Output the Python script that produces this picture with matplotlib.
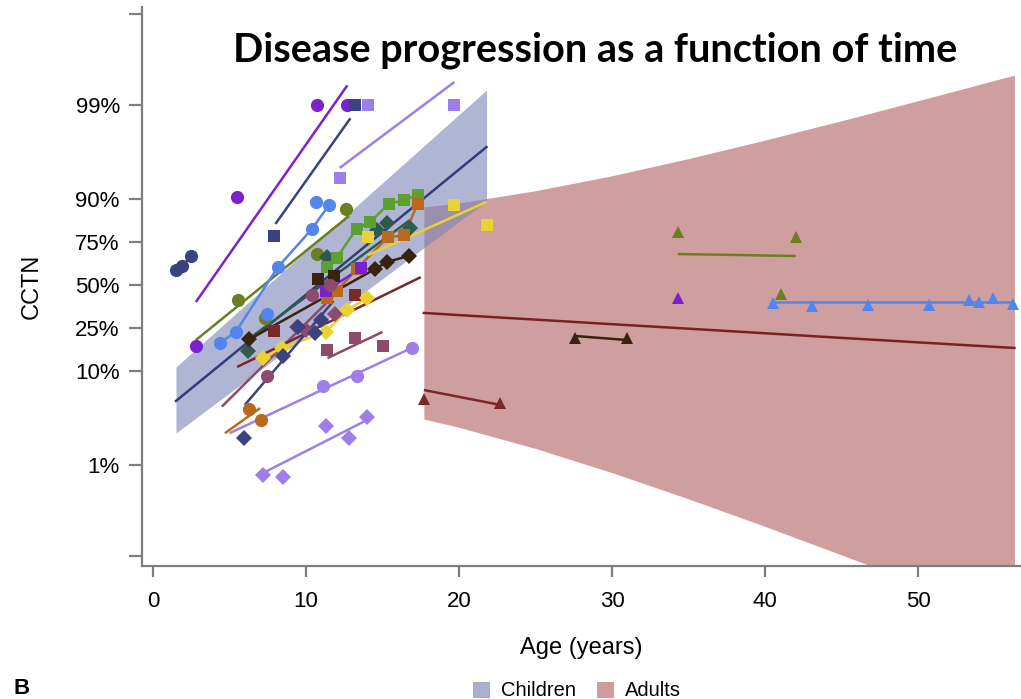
import matplotlib
matplotlib.use("Agg")
import matplotlib.pyplot as plt
from matplotlib.patches import Patch
from matplotlib.ticker import FixedLocator, FixedFormatter, NullLocator

# ---------------- data (percent values on a logit axis) ----------------
# population fits
child_band_age = [1.5, 21.8]
child_fit_pct = [4.93, 97.13]
child_hi_pct = [10.99, 99.314]
child_lo_pct = [2.24, 89.5]

adult_band_age = [17.7, 20, 25, 30, 35, 40, 45, 50, 56.3]
adult_fit_pct = [32.9, 31.7, 29.25, 26.9, 24.7, 22.6, 20.6, 18.8, 16.7]
adult_hi_pct = [87.98, 89.03, 91.73, 94.20, 96.18, 97.58, 98.51, 99.10, 99.53]
adult_lo_pct = [3.17, 2.58, 1.52, 0.826, 0.425, 0.211, 0.102, 0.049, 0.019]

# individual children
c01_age = [1.5, 1.9, 2.5];               c01_pct = [59.5, 61.9, 67.7]
c02_age = [2.8, 5.5, 10.7, 12.7];        c02_pct = [17.4, 90.4, 99.0, 99.0]
c02_fit_age = [2.8, 12.7];               c02_fit_pct = [39.3, 99.39]
c03_age = [5.55, 7.3, 10.7, 12.6];       c03_pct = [40.5, 30.0, 68.8, 87.4]
c03_fit_age = [2.8, 12.8];               c03_fit_pct = [19.7, 85.3]
c04_age = [7.9, 13.2];                   c04_pct = [77.7, 99.0]
c04_fit_age = [8.0, 12.9];               c04_fit_pct = [82.6, 98.6]
c05_age = [12.2, 14.05, 19.7];           c05_pct = [93.9, 99.0, 99.0]
c05_fit_age = [12.2, 19.7];              c05_fit_pct = [95.2, 99.44]
c06_age = [4.4, 5.4, 7.45, 8.17, 10.39, 10.65, 11.5]
c06_pct = [18.6, 23.2, 32.3, 61.3, 80.7, 89.3, 88.5]
c06_fit_age = [4.4, 5.4, 8.17, 10.39, 11.5]
c06_fit_pct = [18.6, 23.2, 61.3, 80.7, 88.5]
c07_age = [6.2, 11.4, 14.64, 15.3, 16.8]; c07_pct = [15.7, 67.1, 80.3, 82.9, 81.1]
c07_fit_age = [6.0, 16.8];               c07_fit_pct = [19.0, 84.0]
c08_age = [11.4, 12.0, 13.3, 14.2, 15.4, 16.4, 17.3]
c08_pct = [61.3, 66.6, 80.7, 83.3, 88.8, 89.7, 90.9]
c09_age = [11.4, 12.0, 13.3, 15.35, 16.4, 17.3]
c09_pct = [41.8, 46.0, 60.0, 77.2, 78.0, 88.8]
c10_age = [6.3, 7.06];                   c10_pct = [4.06, 3.1]
c10_fit_age = [4.7, 7.0];                c10_fit_pct = [2.23, 4.15]
c11_age = [6.3, 14.5, 15.3, 16.7];       c11_pct = [20.0, 60.0, 64.3, 67.7]
c12_age = [10.8, 11.8];                  c12_pct = [53.8, 55.7]
c13_age = [11.3, 13.6];                  c13_pct = [46.2, 60.7]
c14_age = [7.45, 10.4, 11.6];            c14_pct = [8.9, 43.7, 50.0]
c14_fit_age = [4.5, 12.0];               c14_fit_pct = [4.3, 45.0]
c15_age = [7.9, 13.2];                   c15_pct = [23.6, 43.7]
c15_fit_age = [5.5, 17.5];               c15_fit_pct = [11.0, 55.0]
c16_age = [11.4, 13.2, 15.0];            c16_pct = [16.0, 20.6, 17.4]
c16_fit_age = [11.4, 15.0];              c16_fit_pct = [13.4, 23.2]
c17_age = [9.4, 10.0, 11.9];             c17_pct = [25.5, 24.0, 32.3]
c18_age = [7.2, 8.4, 11.3, 12.7, 14.0];  c18_pct = [13.5, 16.7, 23.2, 34.6, 41.8]
c19_age = [14.05, 19.7, 21.8];           c19_pct = [77.3, 88.5, 82.2]
c19_fit_age = [14.05, 21.8];             c19_fit_pct = [68.2, 89.3]
c20_age = [5.95, 8.5, 9.5, 10.6, 11.0];  c20_pct = [1.98, 14.0, 25.5, 22.8, 29.0]
c20_fit_age = [6.0, 11.8];               c20_fit_pct = [4.48, 40.0]
c21_age = [11.1, 13.3, 16.9];            c21_pct = [7.06, 8.9, 16.7]
c21_fit_age = [5.0, 16.9];               c21_fit_pct = [2.23, 16.7]
c22_age = [7.2, 8.5, 11.3, 12.8, 14.0];  c22_pct = [0.78, 0.74, 2.67, 1.98, 3.33]
c22_fit_age = [7.2, 14.0];               c22_fit_pct = [0.82, 3.1]

# individual adults
a01_age = [17.7, 22.7];                  a01_pct = [5.17, 4.7]
a01_fit_age = [17.7, 22.7];              a01_fit_pct = [6.42, 4.48]
a02_age = [27.6, 31.0];                  a02_pct = [20.6, 20.6]
a02_fit_age = [27.6, 31.0];              a02_fit_pct = [21.4, 19.7]
a03_age = [34.3, 41.05, 42.0];           a03_pct = [79.4, 44.3, 77.3]
a03_fit_age = [34.3, 42.0];              a03_fit_pct = [68.8, 67.7]
a04_age = [34.3];                        a04_pct = [41.8]
a05_age = [40.5, 43.1, 46.7, 50.7, 53.3, 54.0, 54.9, 56.2]
a05_pct = [38.7, 36.9, 37.5, 37.5, 40.5, 39.3, 41.8, 38.1]
a05_fit_age = [40.5, 56.2];              a05_fit_pct = [39.3, 39.3]

x_ticks = [0, 10, 20, 30, 40, 50]
y_ticks_pct = [0.1, 1, 10, 25, 50, 75, 90, 99, 99.9]
y_tick_labels = ["", "1%", "10%", "25%", "50%", "75%", "90%", "99%", ""]

# ---------------- styles ----------------
NAVY = "#3B4282"; VIOLET = "#7B22CF"; CBLUE = "#5286EE"; OLIVE = "#6C7E20"
DGREEN = "#2F5B4A"; GREEN = "#5CA02F"; ORANGE = "#B9691E"; DBROWN = "#3A2210"
MAROON = "#7A2828"; MAUVE = "#8E4A6A"; YELLOW = "#E9D232"; LAV = "#9E7EE8"

# (ages, pct, marker, color, fit ages, fit pct, connect points)
series = [
    (c01_age, c01_pct, "o", NAVY, None, None, True),
    (c02_age, c02_pct, "o", VIOLET, c02_fit_age, c02_fit_pct, False),
    (c03_age, c03_pct, "o", OLIVE, c03_fit_age, c03_fit_pct, False),
    (c04_age, c04_pct, "s", NAVY, c04_fit_age, c04_fit_pct, False),
    (c05_age, c05_pct, "s", LAV, c05_fit_age, c05_fit_pct, False),
    (c06_age, c06_pct, "o", CBLUE, c06_fit_age, c06_fit_pct, False),
    (c07_age, c07_pct, "D", DGREEN, c07_fit_age, c07_fit_pct, False),
    (c08_age, c08_pct, "s", GREEN, None, None, True),
    (c09_age, c09_pct, "s", ORANGE, None, None, True),
    (c10_age, c10_pct, "o", ORANGE, c10_fit_age, c10_fit_pct, False),
    (c11_age, c11_pct, "D", DBROWN, None, None, True),
    (c12_age, c12_pct, "s", DBROWN, None, None, False),
    (c13_age, c13_pct, "s", VIOLET, None, None, True),
    (c14_age, c14_pct, "o", MAUVE, c14_fit_age, c14_fit_pct, False),
    (c15_age, c15_pct, "s", MAROON, c15_fit_age, c15_fit_pct, False),
    (c16_age, c16_pct, "s", MAUVE, c16_fit_age, c16_fit_pct, False),
    (c17_age, c17_pct, "D", MAUVE, None, None, False),
    (c18_age, c18_pct, "D", YELLOW, None, None, True),
    (c19_age, c19_pct, "s", YELLOW, c19_fit_age, c19_fit_pct, False),
    (c20_age, c20_pct, "D", NAVY, c20_fit_age, c20_fit_pct, False),
    (c21_age, c21_pct, "o", LAV, c21_fit_age, c21_fit_pct, False),
    (c22_age, c22_pct, "D", LAV, c22_fit_age, c22_fit_pct, False),
    (a01_age, a01_pct, "^", MAROON, a01_fit_age, a01_fit_pct, False),
    (a02_age, a02_pct, "^", DBROWN, a02_fit_age, a02_fit_pct, False),
    (a03_age, a03_pct, "^", OLIVE, a03_fit_age, a03_fit_pct, False),
    (a04_age, a04_pct, "^", VIOLET, None, None, False),
    (a05_age, a05_pct, "^", CBLUE, a05_fit_age, a05_fit_pct, False),
]
msize = {"o": 9.5, "s": 8.5, "D": 8.3, "^": 9.0}

def fr(v):
    return [x / 100.0 for x in v]

plt.rcParams["font.family"] = ["Liberation Sans", "DejaVu Sans"]
fig = plt.figure(figsize=(10.21, 6.99), dpi=100)
ax = fig.add_axes([142 / 1021, 133 / 699, 879 / 1021, 559 / 699])
ax.set_yscale("logit")
ax.set_xlim(-0.72, 56.73)
ax.set_ylim(0.000769, 0.99917)

# bands
ax.fill_between(adult_band_age, fr(adult_lo_pct), fr(adult_hi_pct),
                color="#C07E7E", alpha=0.75, lw=0, zorder=1)
ax.fill_between(child_band_age, fr(child_lo_pct), fr(child_hi_pct),
                color="#7C84B8", alpha=0.6, lw=0, zorder=1.1)
ax.plot(adult_band_age, fr(adult_fit_pct), color="#7A2222", lw=1.8, zorder=2)
ax.plot(child_band_age, fr(child_fit_pct), color="#323C78", lw=1.8, zorder=2)

for ages, pct, mk, col, fa, fp, connect in series:
    if fa is not None:
        ax.plot(fa, fr(fp), color=col, lw=1.8, zorder=3, solid_capstyle="butt")
    if connect:
        ax.plot(ages, fr(pct), color=col, lw=1.8, zorder=3)
    ax.plot(ages, fr(pct), linestyle="none", marker=mk, ms=msize[mk],
            color=col, markeredgewidth=0, zorder=4)

# axes styling
for s in ("top", "right"):
    ax.spines[s].set_visible(False)
for s in ("left", "bottom"):
    ax.spines[s].set_color("#7F7F7F")
    ax.spines[s].set_linewidth(1.6)
ax.yaxis.set_major_locator(FixedLocator(fr(y_ticks_pct)))
ax.yaxis.set_major_formatter(FixedFormatter(y_tick_labels))
ax.yaxis.set_minor_locator(NullLocator())
ax.set_xticks(x_ticks)
ax.tick_params(axis="y", length=9.5, width=1.6, color="#7F7F7F", pad=6.5, labelsize=16)
ax.tick_params(axis="x", length=8, width=1.6, color="#7F7F7F", pad=10, labelsize=16)
ax.set_xlabel("Age (years)", fontsize=17, labelpad=18)
ax.set_ylabel("CCTN", fontsize=17, labelpad=23)

fig.text(595 / 1021, 1 - 50 / 699, "Disease progression as a function of time",
         ha="center", va="center", fontsize=28.5, fontweight="bold", family="Lato")
fig.text(13 / 1021, 1 - 688 / 699, "B", ha="left", va="center",
         fontsize=16, fontweight="bold")

handles = [Patch(facecolor="#ABAFD0", edgecolor="#9A9A9A", lw=0.5),
           Patch(facecolor="#CF9C9C", edgecolor="#9A9A9A", lw=0.5)]
fig.legend(handles, ["Children", "Adults"], loc="center", ncol=2,
           bbox_to_anchor=(577 / 1021, 1 - 691 / 699), frameon=False,
           fontsize=14.5, handlelength=0.8, handleheight=0.8,
           handletextpad=0.6, columnspacing=1.0, borderpad=0)

fig.savefig("out.png", dpi=100)
